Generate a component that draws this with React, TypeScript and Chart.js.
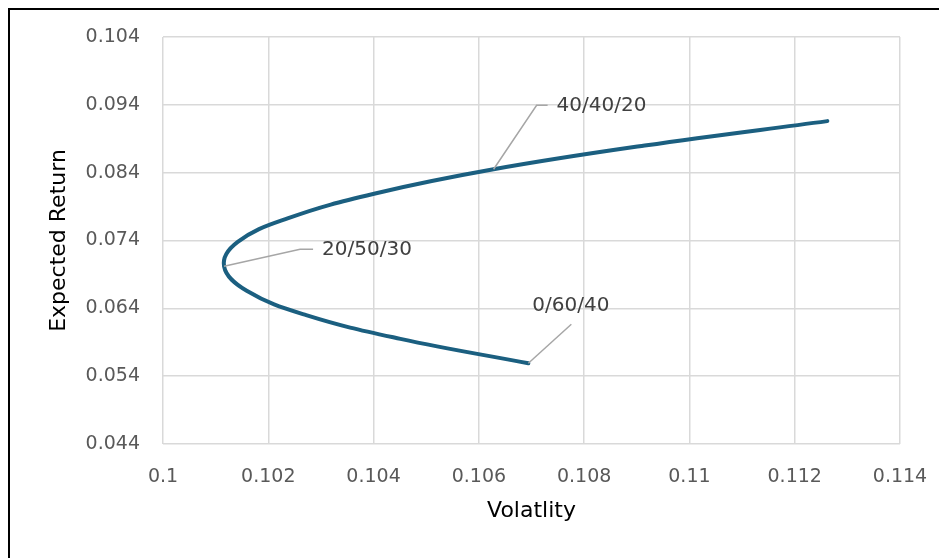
import React, { useEffect, useRef } from "react";
import { Chart, registerables } from "chart.js";

Chart.register(...registerables);

// Portfolio mixes along the frontier
const volatility = [0.10694, 0.10451, 0.10272, 0.10159, 0.10116, 0.10142, 0.10238, 0.10401, 0.10628, 0.10915, 0.11262];
const expectedReturn = [0.0559, 0.0595, 0.063, 0.0666, 0.0702, 0.0738, 0.0773, 0.0809, 0.0845, 0.088, 0.0916];

const xTickValues = [0.1, 0.102, 0.104, 0.106, 0.108, 0.11, 0.112, 0.114];
const yTickValues = [0.044, 0.054, 0.064, 0.074, 0.084, 0.094, 0.104];

const annotationLabels = ["0/60/40", "20/50/30", "40/40/20"];
const annotationPointIndex = [0, 4, 8];

const FONT = "'DejaVu Sans', sans-serif";
const LINE_COLOR = "#1b5f80";
const GRID_COLOR = "#d9d9d9";

// Leader-line geometry (pixel offsets from the data point)
const leaderStyles = [
  { elbow: [43, -39], end: [43, -39], text: [4, -57] },
  { elbow: [76, -17], end: [89, -17], text: [98, -16] },
  { elbow: [43, -64], end: [54, -64], text: [63, -63] },
];

const fmt = (v: number) => String(parseFloat(v.toFixed(3)));

const annotationPlugin = {
  id: "leaderLabels",
  afterDatasetsDraw(chart: any) {
    const meta = chart.getDatasetMeta(0);
    const ctx = chart.ctx;
    ctx.save();
    annotationLabels.forEach((label, i) => {
      const el = meta.data[annotationPointIndex[i]];
      if (!el) return;
      const px = el.x;
      const py = el.y;
      const s = leaderStyles[i];
      ctx.strokeStyle = "#a6a6a6";
      ctx.lineWidth = 1.5;
      ctx.beginPath();
      ctx.moveTo(px, py);
      ctx.lineTo(px + s.elbow[0], py + s.elbow[1]);
      ctx.lineTo(px + s.end[0], py + s.end[1]);
      ctx.stroke();
      ctx.fillStyle = "#404040";
      ctx.font = `20px ${FONT}`;
      ctx.textAlign = "left";
      ctx.textBaseline = "middle";
      ctx.fillText(label, px + s.text[0], py + s.text[1]);
    });
    ctx.restore();
  },
};

export default function App() {
  const canvasRef = useRef<HTMLCanvasElement | null>(null);

  useEffect(() => {
    document.body.style.overflow = "hidden";
    const canvas = canvasRef.current;
    if (!canvas) return;
    const points = volatility.map((v, i) => ({ x: v, y: expectedReturn[i] }));
    const chart = new Chart(canvas, {
      type: "scatter",
      data: {
        datasets: [
          {
            data: points,
            showLine: true,
            borderColor: LINE_COLOR,
            backgroundColor: LINE_COLOR,
            borderWidth: 4,
            tension: 0.4,
            pointRadius: 0,
            pointHoverRadius: 0,
            borderCapStyle: "round",
            borderJoinStyle: "round",
          },
        ],
      },
      options: {
        responsive: false,
        animation: false,
        layout: { padding: { top: 29, right: 47, left: 0, bottom: 0 } },
        plugins: {
          legend: { display: false },
          tooltip: { enabled: false },
        },
        scales: {
          x: {
            type: "linear",
            min: 0.1,
            max: 0.114,
            afterBuildTicks: (scale: any) => {
              scale.ticks = xTickValues.map((v) => ({ value: v }));
            },
            afterFit: (scale: any) => {
              scale.height = 114;
            },
            grid: {
              color: GRID_COLOR,
              lineWidth: 1.5,
              drawTicks: true,
              tickLength: 19,
              tickColor: "rgba(0,0,0,0)",
            },
            border: { display: false },
            ticks: {
              padding: 3,
              color: "#595959",
              font: { family: FONT, size: 19 },
              maxRotation: 0,
              autoSkip: false,
              callback: (v: any) => fmt(Number(v)),
            },
            title: {
              display: true,
              text: "Volatlity",
              color: "#000000",
              font: { family: FONT, size: 22 },
              padding: { top: 0, bottom: 34 },
            },
          },
          y: {
            type: "linear",
            min: 0.044,
            max: 0.104,
            afterBuildTicks: (scale: any) => {
              scale.ticks = yTickValues.map((v) => ({ value: v }));
            },
            afterFit: (scale: any) => {
              scale.width = 155;
            },
            grid: {
              color: GRID_COLOR,
              lineWidth: 1.5,
              drawTicks: true,
              tickLength: 20,
              tickColor: "rgba(0,0,0,0)",
            },
            border: { display: false },
            ticks: {
              padding: 3,
              color: "#595959",
              font: { family: FONT, size: 19 },
              autoSkip: false,
              callback: (v: any) => fmt(Number(v)),
            },
            title: {
              display: true,
              text: "Expected Return",
              color: "#000000",
              font: { family: FONT, size: 22 },
              padding: { top: 38, bottom: 0 },
            },
          },
        },
      },
      plugins: [annotationPlugin],
    });
    return () => chart.destroy();
  }, []);

  return (
    <div style={{ position: "relative", width: 939, height: 550, overflow: "hidden", background: "#ffffff" }}>
      <div
        style={{
          position: "absolute",
          left: 0,
          top: 0,
          width: 1000,
          height: 700,
          border: "2px solid #000000",
          boxSizing: "border-box",
        }}
      />
      <canvas
        ref={canvasRef}
        width={939}
        height={550}
        style={{ position: "absolute", left: 0, top: 0, width: 939, height: 550 }}
      />
    </div>
  );
}
